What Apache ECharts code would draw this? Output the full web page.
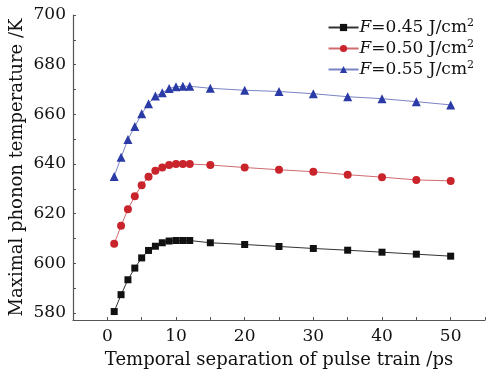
<!DOCTYPE html>
<html><head><meta charset="utf-8">
<script src="https://cdn.jsdelivr.net/npm/echarts@6/dist/echarts.min.js"></script>
<style>html,body{margin:0;padding:0;background:#fff}#c{width:487px;height:369px}</style>
</head><body><div id="c"></div>
<script>
const xValues = [1,2,3,4,5,6,7,8,9,10,11,12,15,20,25,30,35,40,45,50];
const seriesNames = ['0.45', '0.50', '0.55'];
const f045 = [580.6,587.4,593.4,598.1,602.2,605.2,606.9,608.3,609.0,609.2,609.2,609.2,608.3,607.6,606.8,606.0,605.3,604.5,603.7,602.9];
const f050 = [607.9,615.1,621.8,627.0,631.5,634.9,637.3,638.6,639.6,640.0,640.0,640.0,639.6,638.6,637.7,636.9,635.7,634.7,633.6,633.2];
const f055 = [635.0,642.7,649.9,655.1,660.2,664.3,667.4,668.7,670.4,671.1,671.3,671.3,670.5,669.7,669.2,668.3,667.1,666.3,665.1,663.8];
const yTicks = [580,590,600,610,620,630,640,650,660,670,680,690,700];
const yLabels = [580,600,620,640,660,680,700];
const xLabels = [0,10,20,30,40,50];
const xTitle = 'Temporal separation of pulse train /ps';
const yTitle = 'Maximal phonon temperature /K';

const FONT = 'DejaVu Serif';
const colors = ['#111111', '#c9232b', '#2a3aa6'];
const lineColors = ['#333333', '#d06a70', '#7a84c4'];
const symbols = ['rect', 'circle', 'triangle'];
const sizes = [7, 8, 9];
const datasets = [f045, f050, f055];

const chart = echarts.init(document.getElementById('c'));
chart.setOption({
  animation: false,
  backgroundColor: '#fff',
  grid: {left: 73, right: 2, top: 15, bottom: 49, containLabel: false, outerBoundsMode: 'none'},
  legend: {
    right: 8, top: 13, orient: 'vertical', itemGap: 3, itemWidth: 30, itemHeight: 9,
    textStyle: {fontFamily: FONT, fontSize: 17, color: '#111', padding: [0,0,0,-4],
      rich: {i: {fontStyle: 'italic', fontFamily: FONT, fontSize: 17, color: '#111'},
             sup: {fontSize: 11, verticalAlign: 'top', padding: [0,0,8,0], fontFamily: FONT, color: '#111'}}},
    formatter: n => '{i|F}=' + n + ' J/cm{sup|2}',
    data: seriesNames
  },
  xAxis: {
    type: 'value', min: -5, max: 55, interval: 5,
    name: xTitle, nameLocation: 'middle', nameGap: 31, nameMoveOverlap: false,
    nameTextStyle: {fontFamily: FONT, fontSize: 18, color: '#111'},
    axisLine: {onZero: false, lineStyle: {color: '#555', width: 1.2}},
    axisTick: {inside: true, length: 3, lineStyle: {color: '#555'}},
    axisLabel: {customValues: xLabels, fontFamily: FONT, fontSize: 17, color: '#111', margin: 8},
    splitLine: {show: false}
  },
  yAxis: {
    type: 'value', min: 577.2, max: 700,
    name: yTitle, nameLocation: 'middle', nameGap: 47, nameRotate: 90, nameMoveOverlap: false,
    nameTextStyle: {fontFamily: FONT, fontSize: 18, color: '#111'},
    axisLine: {show: true, onZero: false, lineStyle: {color: '#555', width: 1.2}},
    axisTick: {show: true, inside: true, length: 3, customValues: yTicks, lineStyle: {color: '#555'}},
    axisLabel: {customValues: yLabels, fontFamily: FONT, fontSize: 17, color: '#111', margin: 7},
    splitLine: {show: false}
  },
  series: datasets.map((d, i) => ({
    name: seriesNames[i], type: 'line',
    data: xValues.map((x, k) => [x, d[k]]),
    symbol: symbols[i], symbolSize: sizes[i],
    itemStyle: {color: colors[i]},
    lineStyle: {color: lineColors[i], width: 1},
    z: 2 + i
  }))
});
</script></body></html>
